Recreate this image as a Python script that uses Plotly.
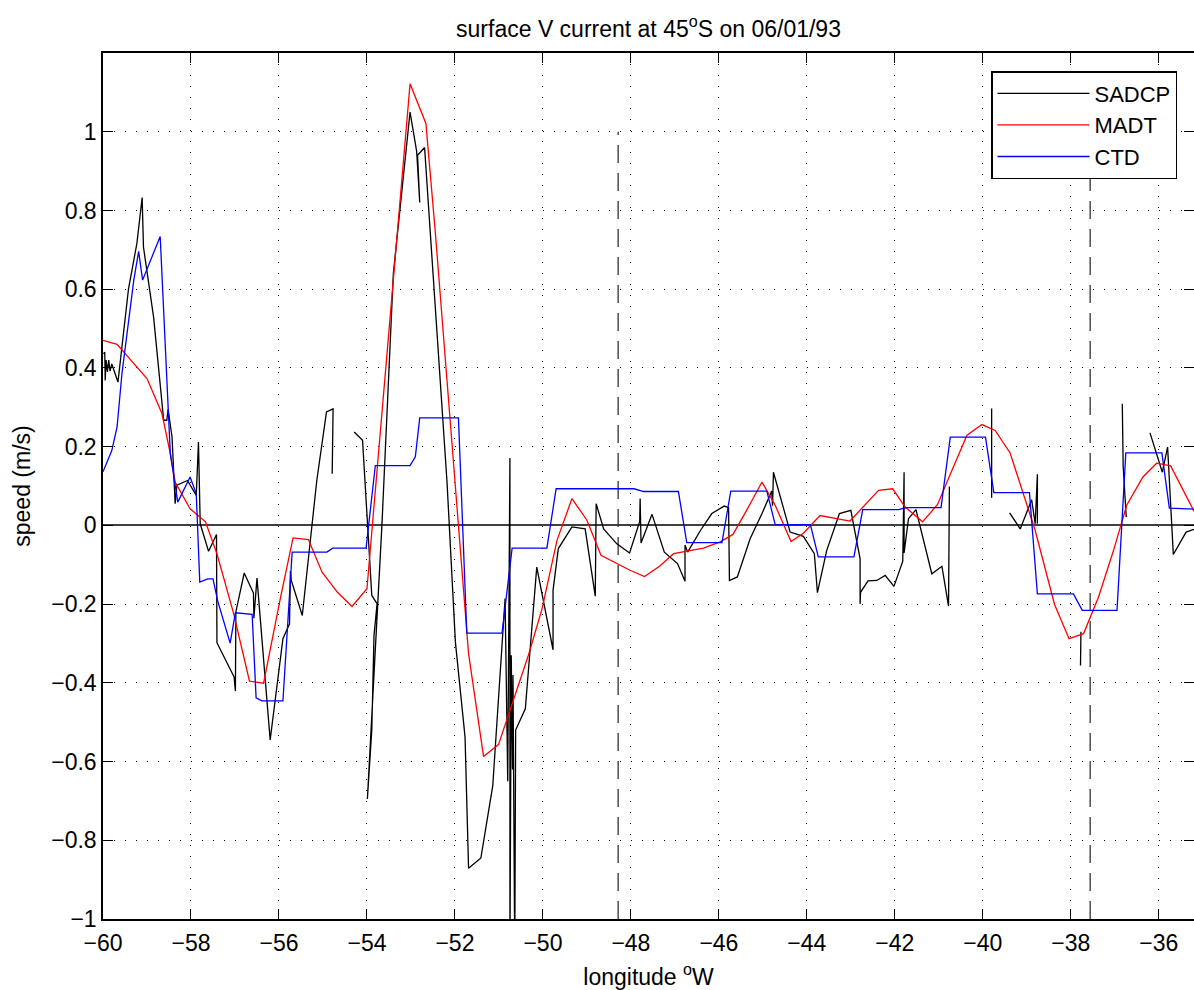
import plotly.graph_objects as go

# ---------------- data ----------------
# SADCP: ship ADCP surface current; None marks gaps in the record
sadcp_lon = [
    -59.99, -59.96, -59.95, -59.93, -59.90, -59.87, -59.84, -59.80, -59.66, -59.42,
    -59.23, -59.11, -59.08, -58.85, -58.62, -58.55, -58.52, -58.49, -58.43, -58.36,
    -58.32, -58.08, -57.88, -57.83, -57.79, -57.60, -57.42, -57.41, -57.02, -56.99,
    -56.98, -56.79, -56.58, -56.57, -56.50, -56.20, -55.91, -55.76, -55.74, -55.72,
    -55.47, -55.14, -54.92, -54.77, -54.79, None,
    -54.29, -54.10, -53.89, -53.77, -53.84, -53.89, -53.99, -53.66, -53.40, -53.02,
    -52.87, -52.80, -52.85, -52.69, -52.18, -51.99, -51.77, -51.69, -51.41, -51.14,
    -50.86, -50.80, -50.75, -50.75, -50.72, -50.69, -50.68, -50.64, -50.62, -50.40,
    -50.14, -49.77, -49.77, -49.65, -49.34, -49.04, -48.81, -48.79, -48.62, -48.32,
    -48.03, -47.80, -47.79, -47.77, -47.52, -47.24, -46.94, -46.77, -46.77, -46.71,
    -46.42, -46.16, -45.88, -45.78, -45.76, -45.58, -45.29, -45.02, -44.80, -44.78,
    -44.76, -44.38, -44.08, -43.83, -43.76, -43.55, -43.26, -43.00, -42.79, -42.79,
    -42.78, -42.61, -42.41, -42.22, -42.02, -41.82, -41.79, -41.79, -41.69, -41.52,
    -41.16, -40.93, -40.78, -40.76, None,
    -39.80, -39.80, None,
    -39.39, -39.15, -38.89, -38.81, -38.76, -38.76, None,
    -37.77, -37.78, None,
    -36.83, -36.81, -36.74, None,
    -36.20, -35.92, -35.80, -35.67, -35.38, -35.20,
]
sadcp_v = [
    0.436, 0.440, 0.368, 0.420, 0.390, 0.420, 0.392, 0.410, 0.364, 0.601,
    0.716, 0.833, 0.707, 0.529, 0.267, 0.267, 0.295, 0.267, 0.224, 0.055,
    0.102, 0.114, 0.076, 0.212, 0.004, -0.066, -0.023, -0.298, -0.385, -0.421,
    -0.220, -0.121, -0.172, -0.236, -0.134, -0.545, -0.288, -0.250, -0.116, -0.140,
    -0.229, 0.114, 0.288, 0.296, 0.131, None,
    0.237, 0.216, -0.178, -0.199, -0.280, -0.520, -0.695, 0.000, 0.640, 1.050,
    0.950, 0.820, 0.940, 0.960, 0.110, -0.296, -0.538, -0.871, -0.845, -0.661,
    -0.186, -0.650, 0.171, -1.100, -0.330, -0.620, -0.380, -1.100, -0.520, -0.466,
    -0.106, -0.316, -0.165, -0.059, -0.004, -0.009, -0.180, 0.055, -0.009, -0.047,
    -0.070, 0.010, 0.068, -0.045, 0.028, -0.068, -0.097, -0.142, -0.050, -0.068,
    -0.013, 0.030, 0.049, 0.045, -0.140, -0.131, -0.034, 0.030, 0.087, 0.050,
    0.135, -0.017, -0.028, -0.072, -0.171, -0.064, 0.030, 0.038, -0.085, -0.200,
    -0.170, -0.141, -0.140, -0.127, -0.155, -0.091, 0.135, -0.070, 0.017, 0.040,
    -0.123, -0.104, -0.205, 0.099, None,
    0.297, 0.070, None,
    0.032, -0.009, 0.065, 0.004, 0.130, 0.004, None,
    -0.270, -0.356, None,
    0.309, 0.150, 0.021, None,
    0.235, 0.135, 0.199, -0.074, -0.017, -0.010,
]

# MADT: altimetry-derived surface current
madt_lon = [
    -60.00, -59.68, -59.00, -58.66, -58.47, -58.36, -58.02, -57.67, -57.41, -57.03,
    -56.67, -56.35, -55.97, -55.68, -55.33, -55.02, -54.67, -54.34, -54.00, -53.02,
    -52.66, -52.45, -51.69, -51.35, -51.01, -50.33, -50.02, -49.68, -49.34, -49.00,
    -48.68, -48.02, -47.69, -47.35, -47.03, -46.35, -45.97, -45.68, -45.37, -45.02,
    -44.72, -44.36, -44.08, -43.70, -43.02, -42.71, -42.37, -42.05, -41.77, -41.37,
    -41.03, -40.67, -40.36, -40.02, -39.72, -39.38, -39.11, -38.81, -38.37, -38.04,
    -37.71, -37.37, -37.03, -36.73, -36.36, -36.05, -35.73, -35.20,
]
madt_v = [
    0.470, 0.460, 0.373, 0.284, 0.182, 0.110, 0.042, 0.009, -0.072, -0.224,
    -0.396, -0.401, -0.186, -0.032, -0.036, -0.119, -0.170, -0.206, -0.161, 1.122,
    1.021, 0.750, -0.326, -0.587, -0.557, -0.330, -0.212, -0.038, 0.068, 0.013,
    -0.076, -0.114, -0.130, -0.104, -0.072, -0.058, -0.042, -0.023, 0.038, 0.110,
    0.051, -0.041, -0.020, 0.025, 0.011, 0.047, 0.089, 0.093, 0.047, 0.009,
    0.053, 0.148, 0.229, 0.256, 0.241, 0.184, 0.093, -0.013, -0.201, -0.288,
    -0.275, -0.182, -0.064, 0.051, 0.123, 0.158, 0.151, 0.036,
]

# CTD: geostrophic current from CTD stations
ctd_lon = [
    -60.00, -59.80, -59.68, -59.57, -59.30, -59.19, -59.10, -58.70, -58.47, -58.30,
    -58.02, -57.88, -57.80, -57.62, -57.50, -57.39, -57.11, -56.99, -56.61, -56.52,
    -56.39, -55.91, -55.70, -54.91, -54.78, -54.02, -53.81, -53.02, -52.90, -52.80,
    -51.92, -51.73, -50.93, -50.70, -49.91, -49.70, -47.93, -47.71, -46.92, -46.73,
    -45.93, -45.73, -44.91, -44.72, -43.92, -43.74, -42.93, -42.73, -41.92, -41.74,
    -40.95, -40.74, -39.94, -39.75, -38.94, -38.76, -37.94, -37.86, -37.74, -36.95,
    -36.75, -35.93, -35.76, -35.20,
]
ctd_v = [
    0.136, 0.190, 0.250, 0.385, 0.623, 0.696, 0.623, 0.734, 0.182, 0.059,
    0.123, 0.080, -0.144, -0.136, -0.136, -0.193, -0.299, -0.222, -0.226, -0.438,
    -0.446, -0.446, -0.068, -0.068, -0.058, -0.058, 0.152, 0.152, 0.174, 0.273,
    0.273, -0.274, -0.274, -0.058, -0.058, 0.093, 0.093, 0.086, 0.086, -0.044,
    -0.044, 0.087, 0.087, 0.002, 0.002, -0.080, -0.080, 0.040, 0.040, 0.045,
    0.045, 0.224, 0.224, 0.083, 0.083, -0.174, -0.174, -0.190, -0.216, -0.216,
    0.184, 0.184, 0.044, 0.041,
]

# longitudes of the two dashed section markers
marker_lon = [-48.29, -37.56]
marker_span = [-1.0, 1.0]

x_ticks = [-60, -58, -56, -54, -52, -50, -48, -46, -44, -42, -40, -38, -36]
y_ticks = [-1, -0.8, -0.6, -0.4, -0.2, 0, 0.2, 0.4, 0.6, 0.8, 1]

title_text = "surface V current at 45<sup>o</sup>S on 06/01/93"
x_title = "longitude <sup>o</sup>W"
y_title = "speed (m/s)"

# ---------------- figure ----------------
FONT = "Liberation Sans, Arial, Helvetica, sans-serif"
fig = go.Figure()

for lon in marker_lon:
    fig.add_trace(go.Scatter(
        x=[lon, lon], y=marker_span, mode="lines", showlegend=False, hoverinfo="skip",
        line=dict(color="#333333", width=1.3, dash="18px,10px"),
    ))

fig.add_trace(go.Scatter(x=sadcp_lon, y=sadcp_v, mode="lines", name="SADCP",
                         line=dict(color="black", width=1.3), connectgaps=False))
fig.add_trace(go.Scatter(x=madt_lon, y=madt_v, mode="lines", name="MADT",
                         line=dict(color="red", width=1.3)))
fig.add_trace(go.Scatter(x=ctd_lon, y=ctd_v, mode="lines", name="CTD",
                         line=dict(color="blue", width=1.3)))

axis_common = dict(
    showline=True, linecolor="black", linewidth=1.5, mirror="allticks",
    ticks="inside", ticklen=10, tickwidth=1, tickcolor="black",
    showgrid=True, gridcolor="black", gridwidth=1, griddash="1px,10px",
    tickfont=dict(family=FONT, size=23, color="black"),
)

W, H = 1194, 990
ML, MR, MT, MB = 103, 0, 53, 71

fig.update_layout(
    width=W, height=H,
    margin=dict(l=ML, r=MR, t=MT, b=MB),
    paper_bgcolor="white", plot_bgcolor="white",
    font=dict(family=FONT, size=23, color="black"),
    title=dict(text=title_text, x=(ML + (W - ML - MR) / 2) / W, xanchor="center",
               y=1 - 29 / H, yanchor="middle", yref="container",
               font=dict(family=FONT, size=23, color="black")),
    xaxis=dict(range=[-60, -35.2], tickvals=x_ticks, zeroline=False,
               ticklabelstandoff=3,
               title=dict(text=x_title, standoff=15, font=dict(size=23)),
               automargin=False, **axis_common),
    yaxis=dict(range=[-1, 1.2], tickvals=y_ticks, zeroline=True,
               zerolinecolor="#404040", zerolinewidth=2,
               title=dict(text=y_title, standoff=14, font=dict(size=23)),
               automargin=False, **axis_common),
    legend=dict(x=(1177 - ML) / (W - ML - MR), xanchor="right",
                y=(919 - 71) / (919 - 53), yanchor="top",
                bgcolor="white", bordercolor="black", borderwidth=1.5,
                font=dict(family=FONT, size=22, color="black"),
                itemwidth=92, tracegroupgap=0),
    showlegend=True,
)

# the page body has a default 8px margin; remove it so the figure fills the window
fig.write_html("out.html", config={"displayModeBar": False},
               post_script="document.body.style.margin='0';document.body.style.overflow='hidden';")
